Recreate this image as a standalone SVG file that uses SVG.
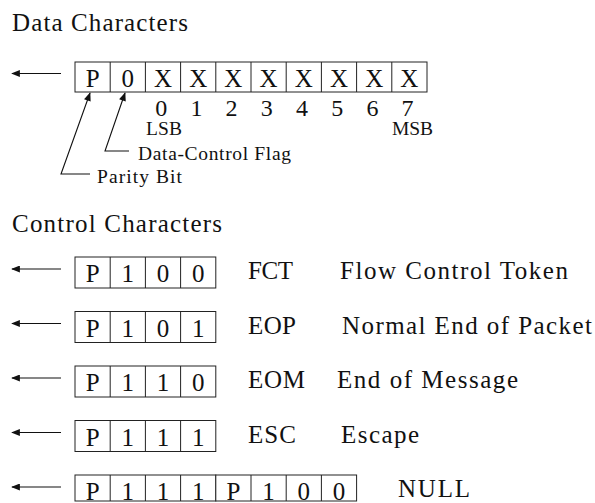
<svg xmlns="http://www.w3.org/2000/svg" width="595" height="503" viewBox="0 0 595 503">
<defs>
<style>
text{font-family:"Liberation Serif","Times New Roman",serif;fill:#111}
.big{font-size:25px}
.sm{font-size:19.5px}
.cell{font-size:25px;text-anchor:middle}
.dig{font-size:24px;text-anchor:middle}
.box{fill:#fff;stroke:#222;stroke-width:1}
.div{stroke:#222;stroke-width:1}
.ln{fill:none;stroke:#111;stroke-width:1.1}
</style>
<marker id="ah" viewBox="0 0 10 8" refX="9" refY="4" markerWidth="10" markerHeight="7" markerUnits="userSpaceOnUse" orient="auto">
<path d="M0,0 L10,4 L0,8 Z" fill="#111"/>
</marker>
</defs>
<rect width="595" height="503" fill="#fff"/>

<text class="big" x="12" y="31" textLength="176" lengthAdjust="spacing">Data Characters</text>

<g id="data-char">
<rect class="box" x="75" y="62" width="352" height="30"/>
<path class="div" d="M110.2,62V92M145.4,62V92M180.6,62V92M215.8,62V92M251,62V92M286.2,62V92M321.4,62V92M356.6,62V92M391.8,62V92"/>
<text class="cell" x="92.6" y="86.5">P</text>
<text class="cell" x="127.8" y="86.5">0</text>
<text class="cell" x="163" y="86.5">X</text>
<text class="cell" x="198.2" y="86.5">X</text>
<text class="cell" x="233.4" y="86.5">X</text>
<text class="cell" x="268.6" y="86.5">X</text>
<text class="cell" x="303.8" y="86.5">X</text>
<text class="cell" x="339" y="86.5">X</text>
<text class="cell" x="374.2" y="86.5">X</text>
<text class="cell" x="409.4" y="86.5">X</text>
</g>

<g id="bit-numbers">
<text class="dig" x="161.2" y="116">0</text>
<text class="dig" x="196.4" y="116">1</text>
<text class="dig" x="231.6" y="116">2</text>
<text class="dig" x="266.8" y="116">3</text>
<text class="dig" x="302" y="116">4</text>
<text class="dig" x="337.2" y="116">5</text>
<text class="dig" x="372.4" y="116">6</text>
<text class="dig" x="407.6" y="116">7</text>
<text class="sm" x="146" y="134.5" textLength="36" lengthAdjust="spacing">LSB</text>
<text class="sm" x="392" y="134.5" textLength="41" lengthAdjust="spacing">MSB</text>
</g>

<g id="dcf-label"><text class="sm" x="138" y="160" textLength="153" lengthAdjust="spacing">Data-Control Flag</text></g>
<g id="parity-label"><text class="sm" x="97" y="183" textLength="85" lengthAdjust="spacing">Parity  Bit</text></g>

<text class="big" x="12" y="232" textLength="210" lengthAdjust="spacing">Control Characters</text>

<g id="fct">
<rect class="box" x="75" y="257" width="140.8" height="31"/>
<path class="div" d="M110.2,257V288M145.4,257V288M180.6,257V288"/>
<text class="cell" x="92.6" y="282">P</text><text class="cell" x="127.8" y="282">1</text><text class="cell" x="163" y="282">0</text><text class="cell" x="198.2" y="282">0</text>
<text class="big" x="248" y="279" textLength="45" lengthAdjust="spacing">FCT</text>
<text class="big" x="340" y="279" textLength="228" lengthAdjust="spacing">Flow Control Token</text>
</g>

<g id="eop">
<rect class="box" x="75" y="311.5" width="140.8" height="31"/>
<path class="div" d="M110.2,311.5V342.5M145.4,311.5V342.5M180.6,311.5V342.5"/>
<text class="cell" x="92.6" y="336.5">P</text><text class="cell" x="127.8" y="336.5">1</text><text class="cell" x="163" y="336.5">0</text><text class="cell" x="198.2" y="336.5">1</text>
<text class="big" x="248" y="333.5" textLength="48" lengthAdjust="spacing">EOP</text>
<text class="big" x="342" y="333.5" textLength="250" lengthAdjust="spacing">Normal End of Packet</text>
</g>

<g id="eom">
<rect class="box" x="75" y="366" width="140.8" height="31"/>
<path class="div" d="M110.2,366V397M145.4,366V397M180.6,366V397"/>
<text class="cell" x="92.6" y="391">P</text><text class="cell" x="127.8" y="391">1</text><text class="cell" x="163" y="391">1</text><text class="cell" x="198.2" y="391">0</text>
<text class="big" x="248" y="388" textLength="57" lengthAdjust="spacing">EOM</text>
<text class="big" x="337" y="388" textLength="181" lengthAdjust="spacing">End of Message</text>
</g>

<g id="esc">
<rect class="box" x="75" y="420.5" width="140.8" height="31"/>
<path class="div" d="M110.2,420.5V451.5M145.4,420.5V451.5M180.6,420.5V451.5"/>
<text class="cell" x="92.6" y="445.5">P</text><text class="cell" x="127.8" y="445.5">1</text><text class="cell" x="163" y="445.5">1</text><text class="cell" x="198.2" y="445.5">1</text>
<text class="big" x="248" y="442.5" textLength="48" lengthAdjust="spacing">ESC</text>
<text class="big" x="341" y="442.5" textLength="78" lengthAdjust="spacing">Escape</text>
</g>

<g id="null">
<rect class="box" x="75" y="475" width="140.8" height="26"/>
<rect class="box" x="215.8" y="475" width="140.8" height="26"/>
<path class="div" d="M110.2,475V501M145.4,475V501M180.6,475V501M251,475V501M286.2,475V501M321.4,475V501"/>
<text class="cell" x="92.6" y="500">P</text><text class="cell" x="127.8" y="500">1</text><text class="cell" x="163" y="500">1</text><text class="cell" x="198.2" y="500">1</text>
<text class="cell" x="233.4" y="500">P</text><text class="cell" x="268.6" y="500">1</text><text class="cell" x="303.8" y="500">0</text><text class="cell" x="339" y="500">0</text>
<text class="big" x="398" y="497" textLength="72" lengthAdjust="spacing">NULL</text>
</g>

<g id="connectors">
<line class="ln" x1="61" y1="73.5" x2="12" y2="73.5" marker-end="url(#ah)"/>
<line class="ln" x1="61" y1="269" x2="12" y2="269" marker-end="url(#ah)"/>
<line class="ln" x1="61" y1="323.5" x2="12" y2="323.5" marker-end="url(#ah)"/>
<line class="ln" x1="61" y1="378" x2="12" y2="378" marker-end="url(#ah)"/>
<line class="ln" x1="61" y1="432.5" x2="12" y2="432.5" marker-end="url(#ah)"/>
<line class="ln" x1="61" y1="487" x2="12" y2="487" marker-end="url(#ah)"/>
<polyline class="ln" points="129,151 105,151 125,93" marker-end="url(#ah)"/>
<polyline class="ln" points="90,174 61,174 90,93" marker-end="url(#ah)"/>
</g>
</svg>
